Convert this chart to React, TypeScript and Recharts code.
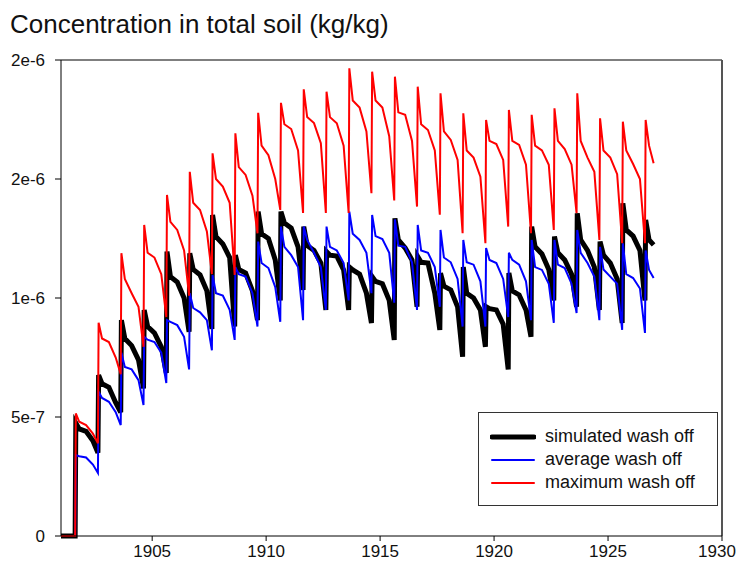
import React from "react";
import { LineChart, Line, XAxis, YAxis, ReferenceLine } from "recharts";

// axis ticks (values in 1e-6 kg/kg)
const xTicks = [1905, 1910, 1915, 1920, 1925, 1930];
const yTicks = [0, 0.5, 1, 1.5, 2];
const yTickLabels = ["0", "5e-7", "1e-6", "2e-6", "2e-6"];

// yearly wash-off cycles: [peak, after spike, plateau, late decline, minimum]
const firstJump = 1901.65;
const cycleOffsets = [0, 0.15, 0.45, 0.75, 0.97];
const lastOffsets = [0, 0.15, 0.35];

const simulated = [
  [0.475, 0.45, 0.44, 0.4, 0.35],
  [0.676, 0.64, 0.625, 0.56, 0.52],
  [0.907, 0.83, 0.8, 0.74, 0.62],
  [0.95, 0.88, 0.853, 0.795, 0.685],
  [1.195, 1.09, 1.067, 1.0, 0.858],
  [1.188, 1.12, 1.097, 1.03, 0.87],
  [1.349, 1.258, 1.227, 1.17, 0.88],
  [1.18, 1.12, 1.105, 1.03, 0.907],
  [1.363, 1.27, 1.25, 1.16, 0.99],
  [1.363, 1.315, 1.294, 1.215, 1.034],
  [1.3, 1.22, 1.2, 1.147, 0.95],
  [1.195, 1.18, 1.176, 1.118, 0.95],
  [1.13, 1.118, 1.1, 1.02, 0.895],
  [1.09, 1.07, 1.06, 0.99, 0.824],
  [1.335, 1.244, 1.21, 1.16, 0.963],
  [1.174, 1.15, 1.147, 1.02, 0.866],
  [1.104, 1.05, 1.034, 0.963, 0.753],
  [1.13, 1.02, 1.0, 0.95, 0.795],
  [0.963, 0.955, 0.95, 0.89, 0.7],
  [1.105, 1.03, 1.013, 0.95, 0.837],
  [1.3, 1.215, 1.185, 1.12, 0.99],
  [1.258, 1.19, 1.16, 1.1, 0.963],
  [1.356, 1.244, 1.2, 1.13, 0.95],
  [1.237, 1.18, 1.147, 1.08, 0.895],
  [1.398, 1.286, 1.26, 1.2, 0.99],
  [1.328, 1.244, 1.223],
];

const average = [
  [0.34, 0.335, 0.33, 0.3, 0.265],
  [0.606, 0.58, 0.564, 0.52, 0.466],
  [0.77, 0.71, 0.7, 0.655, 0.55],
  [0.837, 0.825, 0.815, 0.77, 0.643],
  [0.907, 0.9, 0.886, 0.837, 0.7],
  [1.02, 0.958, 0.94, 0.907, 0.78],
  [1.097, 1.02, 1.01, 0.95, 0.824],
  [1.13, 1.1, 1.09, 1.02, 0.88],
  [1.237, 1.147, 1.126, 1.046, 0.9],
  [1.3, 1.215, 1.18, 1.13, 0.907],
  [1.3, 1.244, 1.19, 1.13, 0.95],
  [1.3, 1.215, 1.2, 1.147, 0.99],
  [1.363, 1.27, 1.244, 1.19, 1.02],
  [1.349, 1.26, 1.248, 1.19, 0.98],
  [1.33, 1.22, 1.215, 1.15, 0.95],
  [1.307, 1.2, 1.19, 1.13, 0.963],
  [1.286, 1.17, 1.15, 1.08, 0.88],
  [1.244, 1.15, 1.14, 1.07, 0.88],
  [1.21, 1.16, 1.147, 1.08, 0.92],
  [1.19, 1.16, 1.14, 1.07, 0.907],
  [1.244, 1.13, 1.118, 1.06, 0.895],
  [1.244, 1.14, 1.126, 1.06, 0.937],
  [1.286, 1.19, 1.147, 1.09, 0.907],
  [1.215, 1.12, 1.09, 1.06, 0.866],
  [1.23, 1.1, 1.084, 1.04, 0.853],
  [1.2, 1.118, 1.084],
];

const maximum = [
  [0.515, 0.48, 0.466, 0.43, 0.39],
  [0.896, 0.83, 0.815, 0.75, 0.68],
  [1.188, 1.08, 1.02, 0.963, 0.795],
  [1.307, 1.19, 1.17, 1.1, 0.92],
  [1.433, 1.32, 1.286, 1.2, 1.01],
  [1.53, 1.4, 1.37, 1.28, 1.1],
  [1.608, 1.5, 1.468, 1.4, 1.097],
  [1.692, 1.55, 1.517, 1.43, 1.272],
  [1.778, 1.64, 1.6, 1.5, 1.37],
  [1.82, 1.73, 1.71, 1.62, 1.357],
  [1.877, 1.76, 1.735, 1.65, 1.357],
  [1.867, 1.76, 1.734, 1.64, 1.357],
  [1.965, 1.83, 1.8, 1.7, 1.44],
  [1.951, 1.83, 1.8, 1.68, 1.41],
  [1.93, 1.78, 1.77, 1.66, 1.384],
  [1.888, 1.73, 1.706, 1.62, 1.35],
  [1.86, 1.7, 1.664, 1.58, 1.272],
  [1.776, 1.62, 1.59, 1.51, 1.23],
  [1.748, 1.66, 1.647, 1.58, 1.3],
  [1.79, 1.66, 1.643, 1.56, 1.272],
  [1.77, 1.64, 1.62, 1.56, 1.286],
  [1.797, 1.66, 1.626, 1.56, 1.357],
  [1.86, 1.66, 1.59, 1.53, 1.244],
  [1.755, 1.62, 1.59, 1.52, 1.23],
  [1.741, 1.62, 1.563, 1.5, 1.23],
  [1.748, 1.64, 1.566],
];

// flat zero before the first application, then one row per cycle point
const data: { year: number; sim: number; avg: number; max: number }[] = [
  { year: 1901, sim: 0, avg: 0, max: 0 },
  { year: firstJump - 0.03, sim: 0, avg: 0, max: 0 },
];
simulated.forEach((row, k) => {
  const offs = k === simulated.length - 1 ? lastOffsets : cycleOffsets;
  row.forEach((_, i) => {
    data.push({
      year: firstJump + k + offs[i],
      sim: simulated[k][i],
      avg: average[k][i],
      max: maximum[k][i],
    });
  });
});

const font = "'Liberation Sans', Arial, sans-serif";

const legendItems = [
  { label: "simulated wash off", color: "#000", width: 5 },
  { label: "average wash off", color: "#0000ff", width: 2 },
  { label: "maximum wash off", color: "#ff0000", width: 2 },
];

// x tick label; the last one is nudged left so it isn't cut at the page edge
const XTick = (props: any) => {
  const { x, y, payload } = props;
  const last = payload.value === xTicks[xTicks.length - 1];
  return (
    <text
      x={last ? x - 5 : x}
      y={y}
      dy="0.71em"
      textAnchor="middle"
      fill="#111"
      fontSize={17}
      fontFamily={font}
    >
      {payload.value}
    </text>
  );
};

export default function App() {
  return (
    <div style={{ position: "relative", width: 734, height: 553, fontFamily: font, background: "#fff" }}>
      <div style={{ position: "absolute", left: 2, top: 3, fontSize: 26, lineHeight: "26px", color: "#111", whiteSpace: "nowrap" }}>
        Concentration in total soil (kg/kg)
      </div>
      <LineChart
        width={734}
        height={553}
        data={data}
        margin={{ top: 52, right: 20, bottom: 0, left: 0 }}
      >
        <XAxis
          dataKey="year"
          type="number"
          domain={[1901, 1930]}
          ticks={xTicks}
          allowDataOverflow
          height={25}
          tickSize={5}
          tickMargin={4}
          stroke="#000"
          tick={<XTick />}
        />
        <YAxis
          type="number"
          domain={[0, 2]}
          ticks={yTicks}
          width={53}
          tickSize={6}
          tickMargin={10}
          stroke="#000"
          tick={{ fill: "#111", fontSize: 17, fontFamily: font }}
          tickFormatter={(v: number) => yTickLabels[yTicks.indexOf(v)] ?? ""}
        />
        <ReferenceLine y={2} stroke="#555" strokeWidth={1.5} />
        <ReferenceLine x={1930} stroke="#555" strokeWidth={2} />
        <Line dataKey="sim" stroke="#000" strokeWidth={5} dot={false} isAnimationActive={false} type="linear" />
        <Line dataKey="avg" stroke="#0000ff" strokeWidth={2} dot={false} isAnimationActive={false} type="linear" />
        <Line dataKey="max" stroke="#ff0000" strokeWidth={2} dot={false} isAnimationActive={false} type="linear" />
      </LineChart>
      <div
        style={{
          position: "absolute",
          left: 470,
          top: 404,
          width: 240,
          height: 94,
          border: "1px solid #333",
          boxSizing: "border-box",
          background: "#fff",
          padding: "12px 0 0 11px",
        }}
      >
        {legendItems.map((it) => (
          <div key={it.label} style={{ display: "flex", alignItems: "center", height: 23, fontSize: 18, color: "#111" }}>
            <svg width={46} height={10} style={{ marginRight: 9 }}>
              <line x1={2} y1={5} x2={44} y2={5} stroke={it.color} strokeWidth={it.width} strokeLinecap="round" />
            </svg>
            <span>{it.label}</span>
          </div>
        ))}
      </div>
    </div>
  );
}
